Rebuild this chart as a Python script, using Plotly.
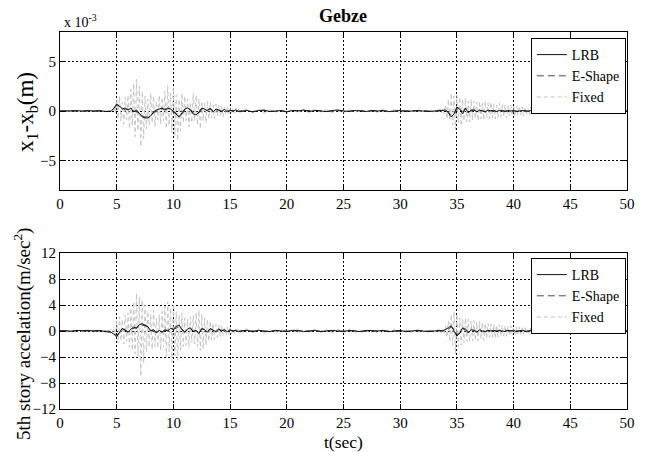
import numpy as np
import plotly.graph_objects as go

# ---------------- data ----------------
def seg_t(start, step, n):
    return [round(start + step * i, 4) for i in range(n)]

# Fixed-base response: fast oscillation, sampled every 0.125 s in active parts
fixed_t = (seg_t(0.0, 0.5, 9) + seg_t(4.5, 0.125, 93) + seg_t(16.5, 0.5, 34)
           + seg_t(33.5, 0.125, 77) + seg_t(43.5, 0.5, 14))

fixed_top_lead = [0.0, 0.05, -0.05, 0.05, -0.05, 0.08, -0.06, 0.1, -0.1]
fixed_top_a = [0.1, -0.1, 0.2, -0.2,
               1.2, -0.8, 1.5, -1.0, 0.9, -1.3, 1.4, -0.9,
               1.6, -1.8, 2.2, -1.5, 2.8, -2.6, 3.2, -2.0,
               2.5, -3.6, 2.0, -2.8, 1.5, -1.8, 1.2, -1.4,
               1.8, -1.2, 1.5, -1.6, 1.0, -0.9, 1.6, -1.3,
               1.4, -1.0, 2.0, -1.8, 2.6, -1.5, 1.8, -2.2,
               2.4, -2.5, 1.6, -3.0, 1.2, -2.0, 1.8, -1.2,
               1.5, -1.0, 1.2, -1.6, 0.9, -1.2, 1.8, -1.0,
               1.6, -1.4, 1.2, -1.8, 1.0, -1.0, 0.8, -1.2,
               1.0, -0.8, 0.9, -0.7, 0.6, -0.8, 0.7, -0.5,
               0.6, -0.5, 0.5, -0.6, 0.4, -0.4, 0.5, -0.3,
               0.3, -0.3, 0.3, -0.2, 0.3, -0.2, 0.2, -0.2, 0.1]
fixed_top_mid = [0.2, -0.15, 0.15, -0.2, 0.1, -0.15, 0.15, -0.1, 0.2, -0.15,
                 0.15, -0.2, 0.2, -0.1, 0.15, -0.15, 0.1, -0.2, 0.2, -0.15,
                 0.15, -0.1, 0.1, -0.15, 0.2, -0.1, 0.15, -0.2, 0.1, -0.1,
                 0.15, -0.15, 0.1, -0.1]
fixed_top_c = [0.2, -0.2, 0.3, -0.3,
               0.6, -0.8, 1.2, -1.0, 1.8, -1.4, 1.5, -1.9,
               1.6, -1.2, 1.4, -1.5, 1.2, -1.0, 1.3, -1.1,
               1.0, -1.1, 1.2, -0.9, 1.0, -0.8, 0.9, -1.0,
               1.0, -0.8, 0.8, -0.9, 1.0, -0.7, 0.8, -0.8,
               0.9, -0.7, 0.7, -0.8, 0.6, -0.7, 0.8, -0.6,
               0.7, -0.6, 0.6, -0.7, 0.5, -0.5, 0.6, -0.5,
               0.5, -0.6, 0.5, -0.4, 0.5, -0.4, 0.4, -0.5,
               0.4, -0.4, 0.3, -0.4, 0.4, -0.3, 0.3, -0.3,
               0.3, -0.3, 0.2, -0.3, 0.2, -0.2, 0.2, -0.2, 0.1]
fixed_top_end = [0.15, -0.1, 0.1, -0.15, 0.1, -0.1, 0.1, -0.1, 0.05, -0.1,
                 0.1, -0.05, 0.05, 0.0]
fixed_top = fixed_top_lead + fixed_top_a + fixed_top_mid + fixed_top_c + fixed_top_end

fixed_bot_lead = [0.0, 0.05, -0.05, 0.1, -0.1, 0.1, -0.1, 0.15, -0.15]
fixed_bot_a = [0.2, -0.3, 0.4, -0.5,
               1.5, -1.8, 2.2, -1.5, 1.8, -2.0, 2.5, -1.6,
               2.8, -2.5, 3.5, -3.0, 4.5, -3.5, 5.8, -4.0,
               5.2, -7.0, 4.8, -5.0, 4.0, -3.2, 3.0, -2.5,
               2.6, -2.8, 3.2, -2.4, 2.0, -2.6, 2.5, -3.0,
               3.0, -2.5, 3.8, -4.0, 4.5, -3.2, 3.5, -4.8,
               4.2, -3.8, 3.0, -4.5, 2.5, -3.0, 2.8, -2.4,
               2.0, -2.2, 1.8, -2.5, 2.2, -1.8, 2.4, -2.0,
               2.8, -2.4, 3.2, -3.0, 2.6, -2.8, 2.0, -2.2,
               1.8, -1.6, 1.5, -1.4, 1.2, -1.3, 1.0, -1.0,
               0.9, -0.8, 0.8, -0.7, 0.6, -0.7, 0.6, -0.5,
               0.5, -0.4, 0.4, -0.4, 0.3, -0.3, 0.3, -0.3, 0.2]
fixed_bot_mid = [0.3, -0.25, 0.2, -0.3, 0.25, -0.2, 0.3, -0.2, 0.25, -0.3,
                 0.2, -0.25, 0.3, -0.2, 0.2, -0.25, 0.25, -0.2, 0.3, -0.25,
                 0.2, -0.2, 0.25, -0.3, 0.2, -0.2, 0.25, -0.25, 0.2, -0.2,
                 0.25, -0.2, 0.2, -0.2]
fixed_bot_c = [0.3, -0.3, 0.4, -0.5,
               0.8, -1.0, 1.5, -1.6, 2.5, -2.2, 3.0, -3.5,
               2.6, -2.4, 2.0, -2.2, 1.8, -1.8, 2.0, -1.6,
               1.8, -1.6, 1.5, -1.5, 1.6, -1.4, 1.4, -1.5,
               1.5, -1.2, 1.3, -1.4, 1.2, -1.1, 1.2, -1.0,
               1.1, -1.0, 1.0, -1.1, 0.9, -0.9, 1.0, -0.8,
               0.9, -0.8, 0.8, -0.8, 0.7, -0.7, 0.8, -0.6,
               0.6, -0.7, 0.6, -0.5, 0.6, -0.5, 0.5, -0.5,
               0.5, -0.4, 0.4, -0.5, 0.4, -0.4, 0.3, -0.4,
               0.3, -0.3, 0.3, -0.3, 0.2, -0.3, 0.2, -0.2, 0.1]
fixed_bot_end = [0.2, -0.2, 0.15, -0.2, 0.15, -0.15, 0.1, -0.15, 0.1, -0.1,
                 0.1, -0.1, 0.05, 0.0]
fixed_bot = fixed_bot_lead + fixed_bot_a + fixed_bot_mid + fixed_bot_c + fixed_bot_end

# Isolated responses (LRB and E-Shape), sampled every 0.25 s in active parts
iso_t = (seg_t(0.0, 0.5, 10) + seg_t(4.75, 0.25, 46) + seg_t(16.5, 0.5, 35)
         + seg_t(33.75, 0.25, 38) + seg_t(43.5, 0.5, 14))

lrb_top = ([0.0, 0.02, -0.02, 0.03, 0.0, 0.05, 0.0, 0.05, -0.05, -0.05]
           + [0.3, 0.7, 0.5, 0.2, 0.3, 0.1, 0.3, -0.1, 0.1, -0.3, -0.6, -0.7, -0.7,
              -0.5, -0.1, 0.1, 0.2, 0.3, 0.1, 0.3, 0.2, -0.1, -0.3, -0.6, -0.2, 0.2,
              0.3, 0.1, -0.3, -0.4, -0.1, 0.3, 0.2, 0.0, 0.3, -0.1, 0.2, 0.1, -0.1,
              0.2, -0.1, 0.1, 0.0, 0.1, -0.05, 0.0]
           + [0.05, -0.1, 0.05, 0.1, -0.05, 0.0, 0.05, -0.1, 0.05, 0.0, 0.1, -0.05,
              0.05, 0.0, -0.05, 0.05, 0.1, 0.0, -0.05, 0.05, 0.0, -0.05, 0.05, 0.0,
              0.05, -0.05, 0.0, 0.05, -0.05, 0.0, 0.05, 0.0, -0.05, 0.0, 0.05]
           + [0.0, 0.1, -0.2, -0.6, -0.3, 0.4, 0.2, -0.3, 0.3, -0.2, 0.1, 0.1,
              -0.1, 0.1, 0.0, -0.1, 0.1, 0.0, 0.05, -0.05, 0.05, 0.0, -0.05, 0.05,
              0.0, 0.05, -0.05, 0.0, 0.05, 0.0, -0.05, 0.05, 0.0, 0.0, 0.05, -0.05,
              0.0, 0.0]
           + [0.05, 0.0, -0.05, 0.0, 0.05, 0.0, 0.0, -0.05, 0.0, 0.05, 0.0, 0.0,
              0.0, 0.0])

eshape_top = ([0.0, 0.0, 0.02, -0.02, 0.02, 0.0, 0.03, 0.02, 0.0, -0.03]
              + [0.2, 0.6, 0.4, 0.3, 0.1, 0.2, 0.1, 0.0, -0.1, -0.2, -0.5, -0.6, -0.6,
                 -0.4, -0.2, 0.0, 0.2, 0.2, 0.2, 0.2, 0.1, 0.0, -0.2, -0.5, -0.3, 0.1,
                 0.2, 0.2, -0.2, -0.3, -0.2, 0.2, 0.2, 0.1, 0.2, 0.0, 0.1, 0.1, 0.0,
                 0.1, 0.0, 0.05, 0.0, 0.05, 0.0, 0.0]
              + [0.0, -0.05, 0.05, 0.05, 0.0, -0.05, 0.0, -0.05, 0.05, 0.05, 0.05,
                 0.0, 0.0, 0.05, -0.05, 0.0, 0.05, 0.05, 0.0, 0.0, 0.05, -0.05, 0.0,
                 0.05, 0.0, 0.0, -0.05, 0.05, 0.0, 0.0, 0.0, 0.05, 0.0, -0.05, 0.0]
              + [0.0, 0.05, -0.1, -0.4, -0.4, 0.2, 0.3, -0.1, 0.2, -0.1, 0.0, 0.1,
                 0.0, 0.05, 0.05, -0.05, 0.05, 0.05, 0.0, -0.05, 0.0, 0.05, 0.0, 0.0,
                 0.05, 0.0, 0.0, -0.05, 0.0, 0.05, 0.0, 0.0, 0.05, 0.0, 0.0, 0.0,
                 0.05, 0.0]
              + [0.0, 0.05, 0.0, -0.05, 0.0, 0.0, 0.05, 0.0, 0.0, 0.0, 0.0, 0.0,
                 0.0, 0.0])

lrb_bot = ([0.0, 0.05, -0.05, 0.1, 0.05, 0.1, 0.0, 0.1, -0.1, -0.2]
           + [-0.5, -0.9, -0.2, 0.4, 0.1, -0.2, 0.3, 0.6, 0.4, 1.0, 1.1, 0.9, 0.7,
              0.0, 0.2, -0.3, 0.1, -0.2, 0.2, 0.0, 0.4, 0.3, 0.7, 0.9, 0.2, -0.2,
              0.3, 0.5, -0.1, 0.1, -0.4, 0.4, 0.2, -0.2, 0.4, 0.1, -0.1, 0.3, 0.0,
              0.2, -0.1, 0.2, 0.0, 0.1, -0.1, 0.0]
           + [0.1, -0.1, 0.1, 0.0, -0.1, 0.1, 0.0, -0.1, 0.1, 0.1, -0.1, 0.0,
              0.1, -0.1, 0.0, 0.1, 0.0, -0.1, 0.1, 0.0, -0.1, 0.1, 0.0, 0.0,
              0.1, -0.1, 0.0, 0.1, -0.1, 0.0, 0.1, 0.0, -0.1, 0.0, 0.1]
           + [0.0, 0.2, 0.5, 0.8, 0.1, -0.8, -0.3, 0.5, 0.2, -0.3, 0.2, 0.1,
              -0.2, 0.2, 0.0, -0.1, 0.1, 0.0, 0.1, -0.1, 0.1, 0.0, -0.1, 0.1,
              0.0, 0.1, -0.1, 0.0, 0.1, 0.0, -0.1, 0.1, 0.0, 0.0, 0.1, -0.1,
              0.0, 0.0]
           + [0.1, 0.0, -0.1, 0.0, 0.1, 0.0, 0.0, -0.1, 0.0, 0.1, 0.0, 0.0,
              0.0, 0.0])

eshape_bot = ([0.0, 0.0, 0.05, -0.05, 0.05, 0.0, 0.05, 0.05, 0.0, -0.1]
              + [-0.4, -0.7, -0.3, 0.2, 0.2, -0.1, 0.2, 0.4, 0.5, 0.8, 0.9, 0.8, 0.6,
                 0.1, 0.1, -0.2, 0.0, -0.1, 0.1, 0.1, 0.3, 0.2, 0.5, 0.7, 0.3, -0.1,
                 0.2, 0.3, 0.0, 0.0, -0.3, 0.3, 0.2, -0.1, 0.3, 0.1, 0.0, 0.2, 0.1,
                 0.1, 0.0, 0.1, 0.0, 0.05, 0.0, 0.0]
              + [0.05, 0.0, 0.05, -0.05, 0.0, 0.05, 0.05, 0.0, 0.05, 0.0, 0.0, 0.05,
                 0.0, -0.05, 0.05, 0.0, 0.05, 0.0, 0.0, 0.05, -0.05, 0.0, 0.05, 0.0,
                 0.0, 0.05, 0.0, -0.05, 0.0, 0.05, 0.0, 0.0, 0.05, 0.0, 0.0]
              + [0.0, 0.1, 0.3, 0.6, 0.3, -0.5, -0.4, 0.3, 0.3, -0.1, 0.1, 0.1,
                 -0.1, 0.1, 0.05, -0.05, 0.05, 0.05, 0.0, -0.05, 0.05, 0.0, 0.0,
                 0.05, 0.0, 0.05, 0.0, 0.0, 0.05, 0.0, -0.05, 0.05, 0.0, 0.0, 0.05,
                 0.0, 0.0, 0.0]
              + [0.05, 0.0, 0.0, 0.0, 0.05, 0.0, 0.0, -0.05, 0.0, 0.05, 0.0, 0.0,
                 0.0, 0.0])

x_ticks = [0, 5, 10, 15, 20, 25, 30, 35, 40, 45, 50]
top_y_ticks = [-5, 0, 5]
bot_y_ticks = [-12, -8, -4, 0, 4, 8, 12]
series_names = ["LRB", "E-Shape", "Fixed"]

# ---------------- figure ----------------
FONT = "Liberation Serif"
fig = go.Figure()

styles = {
    "Fixed": dict(color="#c4c4c4", width=1, dash="4px,3px"),
    "E-Shape": dict(color="#4a4a4a", width=1, dash="7px,4px"),
    "LRB": dict(color="#111111", width=1),
}
ranks = {"LRB": 1, "E-Shape": 2, "Fixed": 3}

for (xa, ya, leg, data) in [
    ("x", "y", "legend", {"Fixed": (fixed_t, fixed_top), "E-Shape": (iso_t, eshape_top), "LRB": (iso_t, lrb_top)}),
    ("x2", "y2", "legend2", {"Fixed": (fixed_t, fixed_bot), "E-Shape": (iso_t, eshape_bot), "LRB": (iso_t, lrb_bot)}),
]:
    for name in ["Fixed", "E-Shape", "LRB"]:
        t, v = data[name]
        fig.add_trace(go.Scatter(x=t, y=v, mode="lines", name=name, line=styles[name],
                                 xaxis=xa, yaxis=ya, legend=leg, legendrank=ranks[name]))

axis_common = dict(showline=True, linecolor="black", linewidth=1, mirror="ticks",
                   ticks="inside", ticklen=5, tickcolor="black",
                   showgrid=True, gridcolor="black", gridwidth=1, griddash="2px,2px",
                   zeroline=False, tickfont=dict(family=FONT, size=15, color="black"))

# pixel layout
PLOT_BOTTOM = 409
PLOT_H = 377
def py(p):  # pixel y -> paper fraction
    return (PLOT_BOTTOM - p) / PLOT_H
def px(p):
    return (p - 60) / 567

top_dom = [py(190), 1.0]
bot_dom = [0.0, py(253)]

legend_common = dict(xanchor="right", yanchor="top", bgcolor="white",
                     bordercolor="black", borderwidth=1,
                     font=dict(family=FONT, size=14), tracegroupgap=0, itemwidth=30)

fig.update_layout(
    width=655, height=452,
    margin=dict(l=60, r=28, t=32, b=43),
    paper_bgcolor="white", plot_bgcolor="white",
    font=dict(family=FONT, color="black"),
    xaxis=dict(axis_common, range=[0, 50], tickvals=x_ticks, domain=[0, 1], anchor="y",
               ticklabelstandoff=0),
    yaxis=dict(axis_common, range=[-8, 8], tickvals=top_y_ticks, domain=top_dom, anchor="x"),
    xaxis2=dict(axis_common, range=[0, 50], tickvals=x_ticks, domain=[0, 1], anchor="y2",
                ticklabelstandoff=0),
    yaxis2=dict(axis_common, range=[-12, 12], tickvals=bot_y_ticks, domain=bot_dom, anchor="x2"),
    legend=dict(legend_common, x=0.998, y=py(38)),
    legend2=dict(legend_common, x=0.998, y=py(258)),
    showlegend=True,
)

annotations = [
    dict(text="<b>Gebze</b>", x=343, y=16, size=18),
    dict(text="x 10<sup>-3</sup>", x=80, y=21, size=14),
    dict(text="x<sub>1</sub>-x<sub>b</sub>(m)", x=27, y=112, size=23, angle=-90),
    dict(text="5th story accelation(m/sec<sup>2</sup>)", x=22, y=334, size=19, angle=-90),
    dict(text="t(sec)", x=343, y=442, size=17.5),
]
for a in annotations:
    fig.add_annotation(text=a["text"], xref="paper", yref="paper",
                       x=px(a["x"]), y=py(a["y"]),
                       xanchor="center", yanchor="middle", showarrow=False,
                       textangle=a.get("angle", 0),
                       font=dict(family=FONT, color="black", size=a["size"]))

fig.write_html("out.html")
